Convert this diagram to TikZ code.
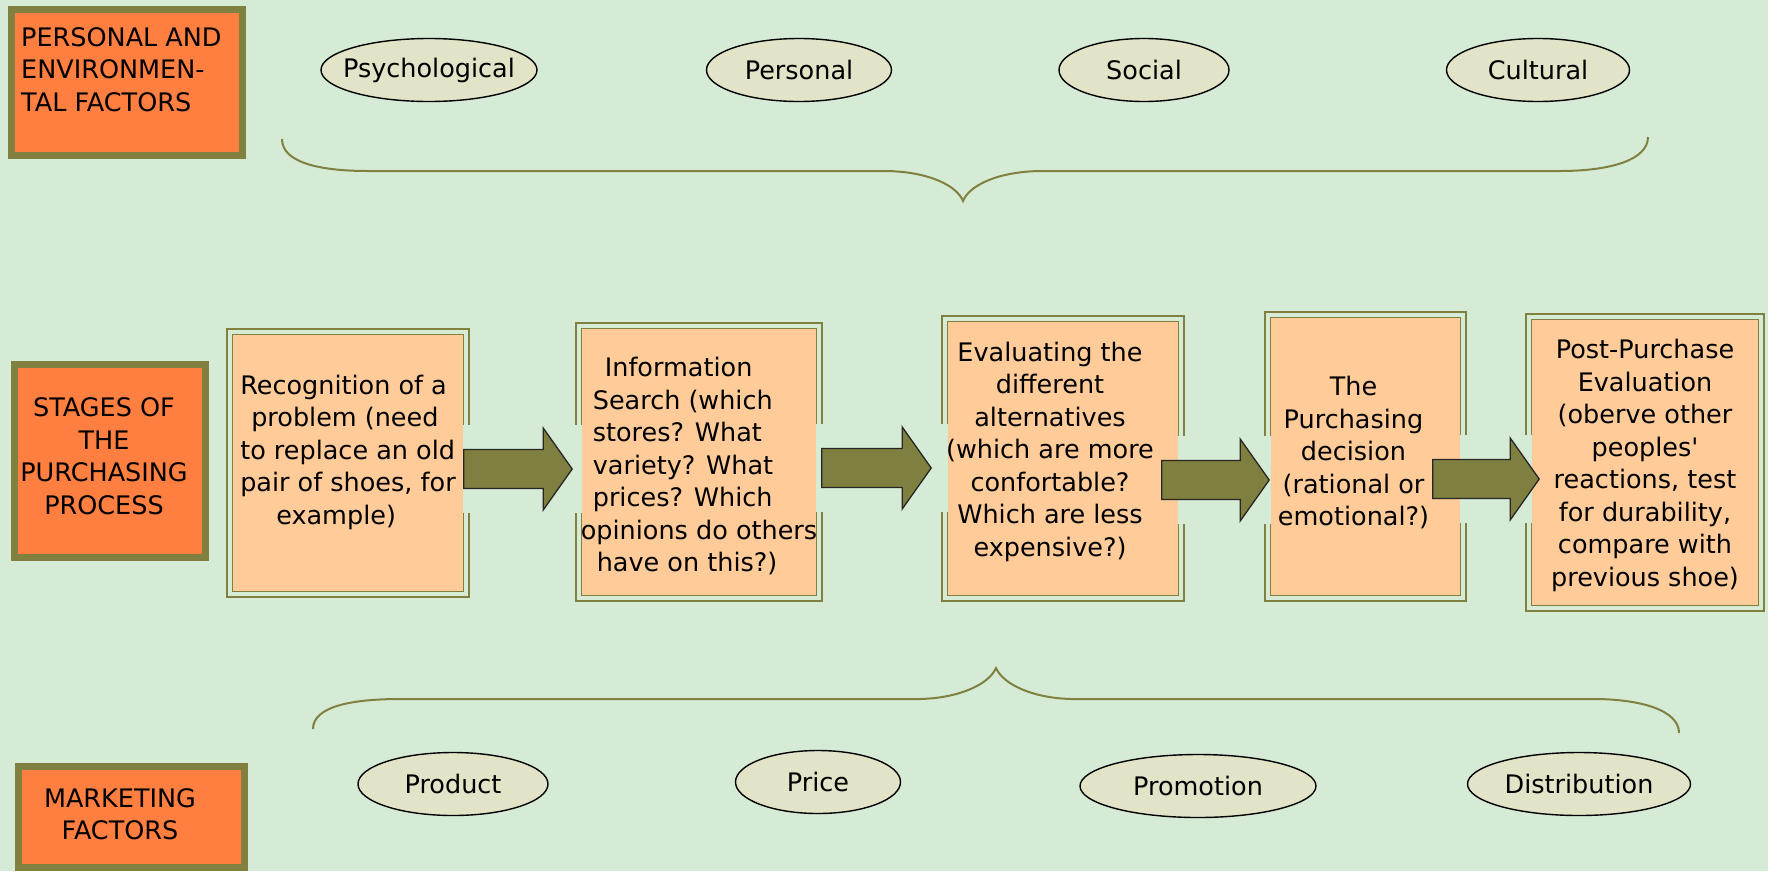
\documentclass[tikz,border=0pt]{standalone}
\usepackage{fontspec}
\setmainfont{DejaVu Sans}
\usetikzlibrary{calc,shapes.geometric}

\definecolor{bggreen}{HTML}{D5EBD5}
\definecolor{oliveline}{HTML}{808040}
\definecolor{factororange}{HTML}{FF7F40}
\definecolor{stagepeach}{HTML}{FFCC99}
\definecolor{ovalfill}{HTML}{E3E3C8}
\definecolor{arrowolive}{HTML}{7F7F3F}

\tikzset{
  factorbox/.style={draw=oliveline, line width=7pt, fill=factororange, inner sep=0pt},
  stagebox/.style={draw=oliveline, line width=1.6pt, double=bggreen, double distance=4pt,
    fill=stagepeach, inner sep=0pt},
  stagetext/.style={inner sep=0pt, align=center},
  factoroval/.style={ellipse, draw=black, line width=1.4pt, fill=ovalfill, inner sep=0pt,
    minimum height=63pt},
  brace/.style={draw=oliveline, line width=2pt},
  bigarrow/.style={fill=arrowolive, draw=black!85, line width=1.3pt},
}

% break in a stage border where an arrow passes: node, anchor, centre y
\newcommand{\bordergap}[3]{%
  \coordinate (gy) at (0,#3);
  \fill[bggreen] ($(#1.#2 |- gy)+(-3.8,-44)$) rectangle ($(#1.#2 |- gy)+(3.8,44)$);
}

% block arrow from one stage to the next: from, to, centre y, tail shift, tip shift
\newcommand{\stagearrow}[5]{%
  \coordinate (ay) at (0,#3);
  \coordinate (tail) at ($(#1.east |- ay)+(#4,0)$);
  \coordinate (tip) at ($(#2.west |- ay)+(#5,0)$);
  \filldraw[bigarrow] ($(tail)+(0,-19.5)$) -- ($(tip)+(-29,-19.5)$) -- ($(tip)+(-29,-41)$)
    -- (tip) -- ($(tip)+(-29,41)$) -- ($(tip)+(-29,19.5)$) -- ($(tail)+(0,19.5)$) -- cycle;
}

\begin{document}
\begin{tikzpicture}[x=1pt, y=-1pt, font=\fontsize{25.5}{32.5}\selectfont]

\useasboundingbox (0,0) rectangle (1768,871);
\fill[bggreen] (0,0) rectangle (1768,871);

% ----------------------------------------------------------
% Left headings
% ----------------------------------------------------------
\node[factorbox, minimum width=231pt, minimum height=146pt] (envbox) at (127,82.5) {};
\node[anchor=north west, inner sep=0pt, align=left] (envtext) at (21,27)
  {PERSONAL AND\\ENVIRONMEN-\\TAL FACTORS};

\node[factorbox, minimum width=191pt, minimum height=193pt] (stagebox) at (110,461) {};
\node[stagetext] (stagetxt) at ($(stagebox)+(-6,-5)$) {STAGES OF\\THE\\PURCHASING\\PROCESS};

\node[factorbox, minimum width=226pt, minimum height=101pt] (mktbox) at (131.5,817) {};
\node[stagetext] (mkttext) at (120,814) {MARKETING\\FACTORS};

% ----------------------------------------------------------
% Braces
% ----------------------------------------------------------
\draw[brace] (282,139) .. controls (282,162) and (318,171) .. (368,171) -- (887,171)
  .. controls (930,172) and (957,186) .. (963,201)
  .. controls (969,186) and (996,172) .. (1039,171) -- (1560,171)
  .. controls (1610,171) and (1648,160) .. (1648,137);

\draw[brace] (313,729) .. controls (313,707) and (350,699) .. (400,699) -- (920,699)
  .. controls (960,698) and (989,684) .. (996,668)
  .. controls (1003,684) and (1032,698) .. (1071,699) -- (1593,699)
  .. controls (1640,699) and (1679,710) .. (1679,733);

% ----------------------------------------------------------
% Personal and environmental factors
% ----------------------------------------------------------
\foreach \nm/\x/\w/\txt in {psych/429/216/Psychological, pers/799/185/Personal,
    soc/1144/170/Social, cult/1538/183/Cultural} {
  \node[factoroval, minimum width=\w pt] (\nm) at (\x,70) {\makebox[0pt]{\txt}};
}

% ----------------------------------------------------------
% Marketing factors
% ----------------------------------------------------------
\foreach \nm/\x/\y/\w/\txt in {prod/453/784/190/Product, price/818/782/165/Price,
    promo/1198/786/236/Promotion, distr/1579/784/223/Distribution} {
  \node[factoroval, minimum width=\w pt] (\nm) at (\x,\y) {\makebox[0pt]{\txt}};
}

% ----------------------------------------------------------
% Stages of the purchasing process
% ----------------------------------------------------------
\node[stagebox, minimum width=236.8pt, minimum height=262.8pt] (recog) at (348,463) {};
\node[stagebox, minimum width=240.8pt, minimum height=272.8pt] (search) at (699,462) {};
\node[stagebox, minimum width=236.8pt, minimum height=279.8pt] (evalalt) at (1063,458.5) {};
\node[stagebox, minimum width=195.8pt, minimum height=283.8pt] (decide) at (1365.5,456.5) {};
\node[stagebox, minimum width=232.8pt, minimum height=291.8pt] (postbuy) at (1645,462.5) {};

\bordergap{recog}{east}{469}
\bordergap{search}{west}{469}
\bordergap{search}{east}{468}
\bordergap{evalalt}{west}{468}
\bordergap{evalalt}{east}{480}
\bordergap{decide}{west}{480}
\bordergap{decide}{east}{479}
\bordergap{postbuy}{west}{479}

\node[stagetext, align=left] (recogtxt) at ($(recog)+(0,-11)$)
  {Recognition of a\\\hspace*{11pt}problem (need\\to replace an old\\pair of shoes, for\\\hspace*{36pt}example)};
\node[stagetext, align=left] (searchtxt) at ($(search)+(0,4)$)
  {\hspace*{24pt}Information\\\hspace*{12pt}Search (which\\\hspace*{12pt}stores? What\\\hspace*{12pt}variety? What\\\hspace*{12pt}prices? Which\\opinions do others\\\hspace*{16pt}have on this?)};
\node[stagetext] (evaltxt) at ($(evalalt)+(-13,-7)$)
  {Evaluating the\\different\\alternatives\\(which are more\\confortable?\\Which are less\\expensive?)};
\node[stagetext] (decidetxt) at ($(decide)+(-12,-4)$)
  {The\\Purchasing\\decision\\(rational or\\emotional?)};
\node[stagetext] (posttxt) at ($(postbuy)+(0,3)$)
  {Post-Purchase\\Evaluation\\(oberve other\\peoples\textquotesingle\\reactions, test\\for durability,\\compare with\\previous shoe)};

% ----------------------------------------------------------
% Arrows between stages
% ----------------------------------------------------------
\stagearrow{recog}{search}{469}{-3.4}{-5.6}
\stagearrow{search}{evalalt}{468}{1.6}{-12.6}
\stagearrow{evalalt}{decide}{480}{-20.4}{2.4}
\stagearrow{decide}{postbuy}{479}{-31.4}{11.4}

\end{tikzpicture}
\end{document}
